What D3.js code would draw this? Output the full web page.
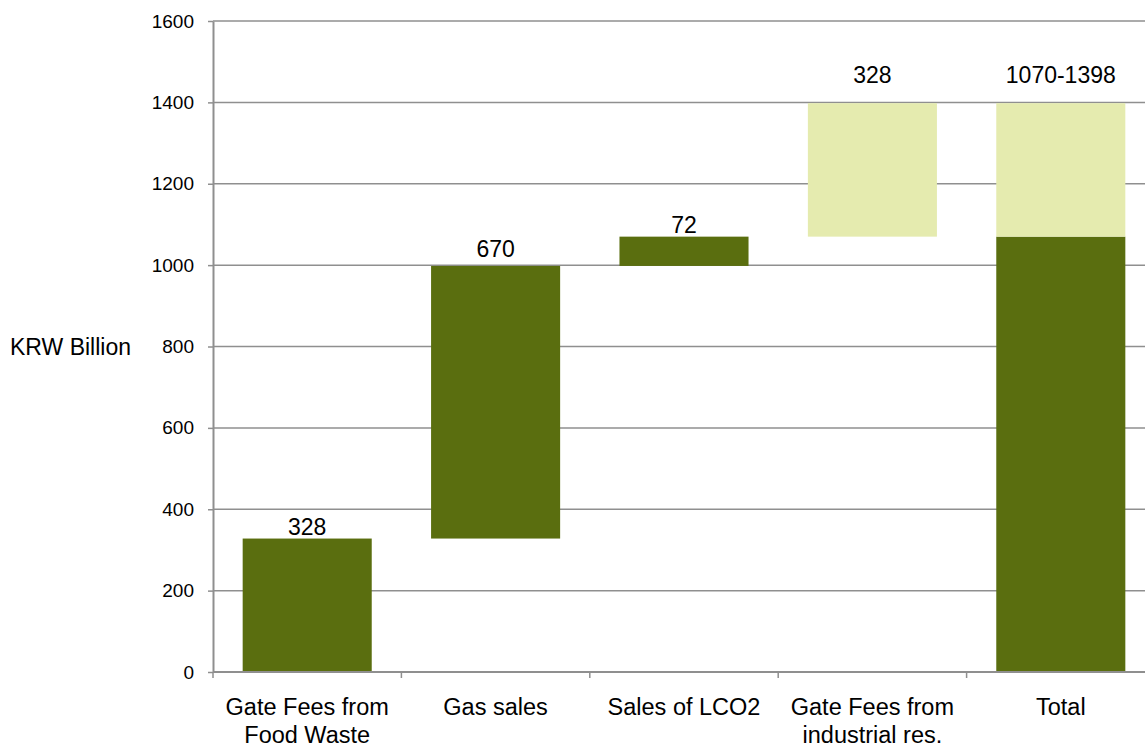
<!DOCTYPE html>
<html>
<head>
<meta charset="utf-8">
<script src="https://cdn.jsdelivr.net/npm/d3@7"></script>
<style>
  html, body { margin: 0; padding: 0; background: #fff; }
  svg { display: block; font-family: "Liberation Sans", Arial, sans-serif; }
</style>
</head>
<body>
<svg id="chart" width="1145" height="745"></svg>
<script>
// ---- data ----
const categories = [
  ["Gate Fees from", "Food Waste"],
  ["Gas sales"],
  ["Sales of LCO2"],
  ["Gate Fees from", "industrial res."],
  ["Total"]
];
const baseValues  = [0, 328, 998, 1070, 0];      // invisible offset of each step
const darkValues  = [328, 670, 72, 0, 1070];     // confirmed revenue
const lightValues = [0, 0, 0, 328, 328];         // potential revenue
const labelTexts  = ["328", "670", "72", "328", "1070-1398"];
const labelLevels = [336, 1020, 1080, 1447, 1447];
const yTicks = [0, 200, 400, 600, 800, 1000, 1200, 1400, 1600];
const yTitle = "KRW Billion";

// ---- layout ----
(function () {
const svg = d3.select("#chart");
const mLeft = 213, mRight = 1155, mTop = 21, mBottom = 672;
const keys = categories.map((d, i) => i);

const x = d3.scaleBand().domain(keys).range([mLeft, mRight]).padding(0);
const y = d3.scaleLinear().domain([0, 1600]).range([mBottom, mTop]);
const barFrac = 0.685;
const bw = x.bandwidth() * barFrac;
const bx = i => x(i) + (x.bandwidth() - bw) / 2;

const gridColor = "#8f8f8f";

// gridlines
svg.append("g").selectAll("line").data(yTicks.filter(t => t > 0)).join("line")
  .attr("x1", mLeft).attr("x2", mRight)
  .attr("y1", d => y(d)).attr("y2", d => y(d))
  .attr("stroke", gridColor).attr("stroke-width", 1.5);

// stacked waterfall
const rows = keys.map(i => ({ i, base: baseValues[i], dark: darkValues[i], light: lightValues[i] }));
const stack = d3.stack().keys(["base", "dark", "light"])(rows);
const fills = { base: "none", dark: "#5a6e0f", light: "#e5ebaf" };

stack.forEach(layer => {
  if (layer.key === "base") return;
  svg.append("g").selectAll("rect").data(layer.filter(d => d[1] > d[0])).join("rect")
    .attr("x", d => bx(d.data.i))
    .attr("width", bw)
    .attr("y", d => y(d[1]))
    .attr("height", d => y(d[0]) - y(d[1]))
    .attr("fill", fills[layer.key]);
});

// y axis
const yAxis = d3.axisLeft(y).tickValues(yTicks).tickFormat(d3.format("d"))
  .tickSize(5).tickPadding(14).tickSizeOuter(0);
const gy = svg.append("g").attr("transform", `translate(${mLeft},0)`).call(yAxis);
gy.select(".domain").attr("stroke", gridColor).attr("stroke-width", 2);
gy.selectAll(".tick line").attr("stroke", gridColor).attr("stroke-width", 1.5);
gy.selectAll(".tick text").attr("font-size", 19).attr("fill", "#000")
  .attr("font-family", "Liberation Sans, Arial, sans-serif");

// x axis line
svg.append("line").attr("x1", mLeft).attr("x2", mRight).attr("y1", mBottom).attr("y2", mBottom)
  .attr("stroke", gridColor).attr("stroke-width", 2);
// x category boundary ticks
const bounds = keys.map(i => x(i));
svg.append("g").selectAll("line").data(bounds).join("line")
  .attr("x1", d => d).attr("x2", d => d).attr("y1", mBottom).attr("y2", mBottom + 6)
  .attr("stroke", gridColor).attr("stroke-width", 1.5);

// category labels
const catG = svg.append("g");
categories.forEach((lines, i) => {
  const t = catG.append("text")
    .attr("x", x(i) + x.bandwidth() / 2)
    .attr("y", 715)
    .attr("text-anchor", "middle")
    .attr("font-size", 23.5)
    .attr("fill", "#000");
  lines.forEach((ln, j) => {
    t.append("tspan").attr("x", x(i) + x.bandwidth() / 2).attr("dy", j === 0 ? 0 : 28).text(ln);
  });
});

// value labels
svg.append("g").selectAll("text").data(keys).join("text")
  .attr("x", i => x(i) + x.bandwidth() / 2)
  .attr("y", i => y(labelLevels[i]))
  .attr("text-anchor", "middle")
  .attr("font-size", 23)
  .attr("fill", "#000")
  .text(i => labelTexts[i]);

// y title
svg.append("text").attr("x", 10).attr("y", 355)
  .attr("font-size", 23).attr("fill", "#000").text(yTitle);
})();
</script>
</body>
</html>
